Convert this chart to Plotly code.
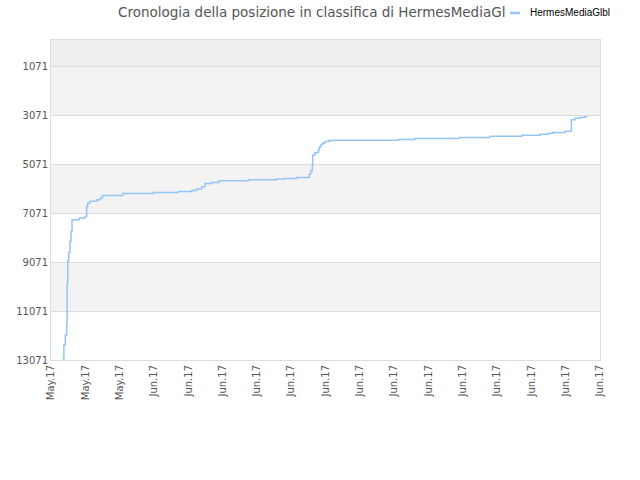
import plotly.graph_objects as go

# rank history (lower number = better position)
dates = [
    "2017-05-26 16:00", "2017-05-26 18:00", "2017-05-26 20:00", "2017-05-26 22:00",
    "2017-05-26 22:30", "2017-05-26 23:24", "2017-05-27 00:48", "2017-05-27 02:36",
    "2017-05-27 04:00", "2017-05-27 05:24", "2017-05-27 15:36", "2017-05-27 23:36",
    "2017-05-28 01:54", "2017-05-28 03:18", "2017-05-28 06:36", "2017-05-28 15:54",
    "2017-05-28 20:36", "2017-05-28 23:48", "2017-05-30 04:18", "2017-05-31 23:06",
    "2017-06-02 10:06", "2017-06-03 04:48", "2017-06-03 11:48", "2017-06-03 18:48",
    "2017-06-03 23:24", "2017-06-04 08:48", "2017-06-04 19:00", "2017-06-06 12:00",
    "2017-06-08 03:48", "2017-06-08 14:00", "2017-06-09 07:42", "2017-06-10 01:24",
    "2017-06-10 03:18", "2017-06-10 05:36", "2017-06-10 06:06", "2017-06-10 09:18",
    "2017-06-10 14:00", "2017-06-10 15:24", "2017-06-10 17:42", "2017-06-10 20:06",
    "2017-06-10 23:18", "2017-06-11 04:54", "2017-06-11 13:18", "2017-06-15 05:54",
    "2017-06-16 05:12", "2017-06-18 19:12", "2017-06-20 14:12", "2017-06-22 10:30",
    "2017-06-23 12:06", "2017-06-23 23:42", "2017-06-24 05:54", "2017-06-24 23:06",
    "2017-06-25 07:30", "2017-06-25 08:00", "2017-06-25 13:06", "2017-06-25 20:06",
    "2017-06-26 01:42", "2017-06-26 06:18",
]
ranks = [
    13071, 12460, 12050, 11580,
    9950, 9020, 8680, 8220,
    7810, 7340, 7270, 7210,
    6800, 6660, 6590, 6530,
    6460, 6350, 6270, 6230,
    6190, 6150, 6090, 5990,
    5860, 5820, 5750, 5710,
    5680, 5660, 5620, 5470,
    5340, 5110, 4700, 4610,
    4500, 4370, 4270, 4210,
    4150, 4110, 4090, 4060,
    4020, 3980, 3930, 3890,
    3850, 3810, 3780, 3730,
    3700, 3260, 3200, 3170,
    3140, 3140,
]

tick_dates = ["2017-05-26", "2017-05-28", "2017-05-30", "2017-06-01", "2017-06-03",
              "2017-06-05", "2017-06-07", "2017-06-09", "2017-06-11", "2017-06-13",
              "2017-06-15", "2017-06-17", "2017-06-19", "2017-06-21", "2017-06-23",
              "2017-06-25", "2017-06-27"]
tick_labels = ["May.17"] * 3 + ["Jun.17"] * 14

y_ticks = [1071, 3071, 5071, 7071, 9071, 11071, 13071]
y_labels = [str(v) for v in y_ticks]
bands = [(0, 1071, "#eeeeee"), (1071, 3071, "#f3f3f3"), (5071, 7071, "#f3f3f3"),
         (9071, 11071, "#f3f3f3")]

series_name = "HermesMediaGlbl"
line_color = "#95c5f5"

fig = go.Figure(go.Scatter(
    x=dates, y=ranks, mode="lines", line_shape="hv",
    line=dict(color=line_color, width=1.5),
    name=series_name, showlegend=False,
))

for y0, y1, col in bands:
    fig.add_shape(type="rect", xref="paper", x0=0, x1=1, yref="y", y0=y0, y1=y1,
                  fillcolor=col, line_width=0, layer="below")

# small legend next to the title (short line key + name)
fig.add_shape(type="line", xref="paper", yref="paper", x0=0.836, x1=0.854,
              y0=1.0844, y1=1.0844, line=dict(color=line_color, width=2.5))
fig.add_annotation(text=series_name, xref="paper", yref="paper", x=0.869, y=1.0875,
                   xanchor="left", yanchor="middle", showarrow=False,
                   font=dict(family="Liberation Sans", size=10, color="#000000"))

fig.update_layout(
    width=640, height=480,
    margin=dict(l=51, r=40, t=40, b=120, autoexpand=False),
    paper_bgcolor="white", plot_bgcolor="white",
    font=dict(family="DejaVu Sans", size=10, color="#555555"),
    title=dict(text="Cronologia della posizione in classifica di HermesMediaGl",
               x=0.487, xanchor="center", y=0.975, yanchor="middle",
               font=dict(size=13.5, color="#555555")),
    xaxis=dict(type="date", range=["2017-05-26", "2017-06-27"],
               tickvals=tick_dates, ticktext=tick_labels, tickangle=-90,
               showgrid=False, showline=True, linecolor="#dddddd", mirror=True,
               ticks="", zeroline=False),
    yaxis=dict(range=[13071, 0], tickvals=y_ticks, ticktext=y_labels,
               showgrid=True, gridcolor="#dddddd",
               showline=True, linecolor="#dddddd", mirror=True, zeroline=False,
               ticks="", tickfont=dict(size=10, color="#555555")),
)

# drop the browser's default page margin so the figure sits at (0, 0)
fig.write_html("out.html", config={"displayModeBar": False},
               post_script="document.body.style.margin='0';")
